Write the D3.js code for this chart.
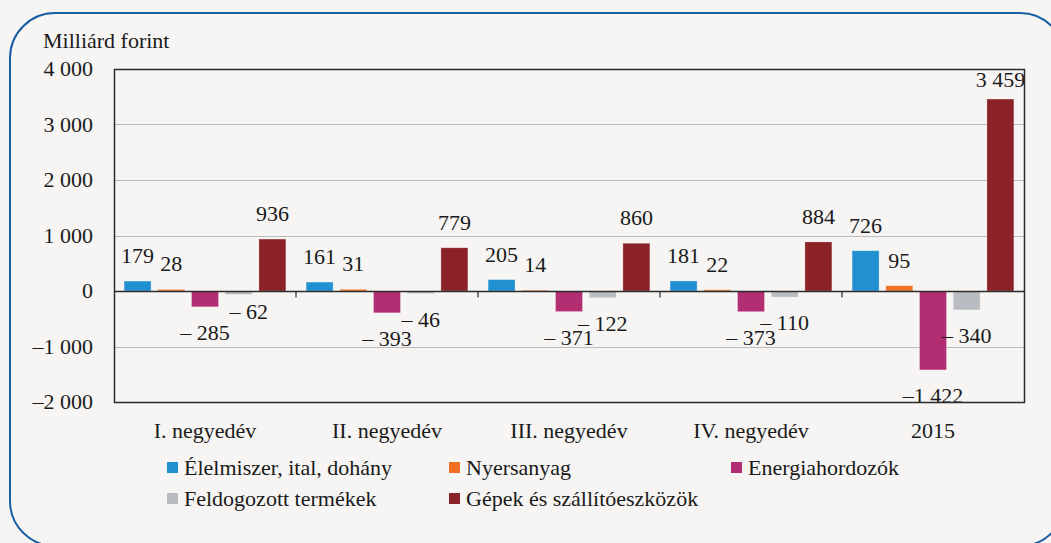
<!DOCTYPE html>
<html lang="hu">
<head>
<meta charset="UTF-8">
<title>Milliárd forint</title>
<script src="https://d3js.org/d3.v7.min.js"></script>
<style>
    body { margin: 0; padding: 0; background: #f6f5f3; }
    svg { display: block; }
</style>
</head>
<body>
<div id="chart"></div>
<script>
    const categories = ["I. negyedév", "II. negyedév", "III. negyedév", "IV. negyedév", "2015"];
    const seriesNames = ["Élelmiszer, ital, dohány", "Nyersanyag", "Energiahordozók", "Feldogozott termékek", "Gépek és szállítóeszközök"];
    const seriesColors = ["#2190d0", "#f07024", "#b32d73", "#b9bcc0", "#8b2227"];
    const food = [179, 161, 205, 181, 726];
    const raw = [28, 31, 14, 22, 95];
    const energy = [-285, -393, -371, -373, -1422];
    const processed = [-62, -46, -122, -110, -340];
    const machinery = [936, 779, 860, 884, 3459];
    const yTicks = [-2000, -1000, 0, 1000, 2000, 3000, 4000];

    const series = [food, raw, energy, processed, machinery];

    // manual nudge of one label that sits next to its neighbour in the original
    const labelNudge = { "0-3": [10, -8] };

    const width = 1051, height = 543;
    const plot = { left: 114, right: 1024, top: 69, bottom: 402 };
    const FONT = "Liberation Serif";
    const FS = 22;
    const INK = "#1a1a1a";

    const svg = d3.select("#chart").append("svg")
        .attr("width", width).attr("height", height)
        .attr("font-family", FONT);

    // frame
    svg.append("rect")
        .attr("x", 10).attr("y", 13)
        .attr("width", 1055).attr("height", 533)
        .attr("rx", 45).attr("ry", 45)
        .attr("fill", "#f6f5f3")
        .attr("stroke", "#1a5fa4").attr("stroke-width", 2);

    const x0 = d3.scaleBand().domain(d3.range(categories.length))
        .range([plot.left, plot.right]).padding(0);
    const x1 = d3.scaleBand().domain(d3.range(series.length))
        .range([0, x0.bandwidth()]).paddingInner(0.2).paddingOuter(0.3);
    const y = d3.scaleLinear().domain([-2000, 4000]).range([plot.bottom, plot.top]);

    // gridlines
    svg.append("g").selectAll("line")
        .data(yTicks.filter(t => t !== 0 && t !== 4000 && t !== -2000))
        .join("line")
        .attr("x1", plot.left).attr("x2", plot.right)
        .attr("y1", d => Math.round(y(d)) + 0.5).attr("y2", d => Math.round(y(d)) + 0.5)
        .attr("stroke", "#bcbcbc").attr("stroke-width", 1);

    // y axis labels
    const fmtTick = d => {
        const s = d3.format(",")(Math.abs(d)).replace(/,/g, " ");
        return d < 0 ? "\u2013" + s : s;
    };
    svg.append("g").selectAll("text")
        .data(yTicks).join("text")
        .attr("x", 93).attr("y", d => y(d))
        .attr("dy", "0.33em")
        .attr("text-anchor", "end")
        .attr("font-size", FS).attr("fill", INK)
        .text(fmtTick);

    svg.append("text")
        .attr("x", 43).attr("y", 48)
        .attr("font-size", FS).attr("fill", INK)
        .text("Milliárd forint");

    // bars
    const groups = svg.append("g").selectAll("g")
        .data(categories).join("g")
        .attr("transform", (d, i) => `translate(${x0(i)},0)`);

    groups.selectAll("rect")
        .data((d, i) => series.map((s, j) => ({ g: i, s: j, v: s[i] })))
        .join("rect")
        .attr("x", d => x1(d.s))
        .attr("width", x1.bandwidth())
        .attr("y", d => y(Math.max(0, d.v)))
        .attr("height", d => Math.abs(y(d.v) - y(0)))
        .attr("fill", d => seriesColors[d.s])
        .attr("stroke", "#ffffff").attr("stroke-opacity", 0.35).attr("stroke-width", 0.8);

    // value labels
    const fmtVal = v => {
        const a = Math.abs(v);
        const s = d3.format(",")(a).replace(/,/g, " ");
        if (v >= 0) return s;
        return a < 1000 ? "\u2013 " + s : "\u2013" + s;
    };
    groups.selectAll("text")
        .data((d, i) => series.map((s, j) => ({ g: i, s: j, v: s[i] })))
        .join("text")
        .attr("x", d => x1(d.s) + x1.bandwidth() / 2 + (labelNudge[d.g + "-" + d.s] || [0, 0])[0])
        .attr("y", d => {
            const n = (labelNudge[d.g + "-" + d.s] || [0, 0])[1];
            if (d.v >= 0) return Math.max(y(d.v) - 18, plot.top + 18) + n;
            return y(d.v) + 33 + n;
        })
        .attr("text-anchor", "middle")
        .attr("font-size", FS).attr("fill", INK)
        .text(d => fmtVal(d.v));

    // plot frame
    svg.append("rect")
        .attr("x", plot.left + 0.5).attr("y", plot.top + 0.5)
        .attr("width", plot.right - plot.left).attr("height", plot.bottom - plot.top)
        .attr("fill", "none").attr("stroke", "#2b2b2b").attr("stroke-width", 1.5);

    // zero line and category ticks
    const zeroY = Math.round(y(0)) + 0.5;
    svg.append("line")
        .attr("x1", plot.left).attr("x2", plot.right)
        .attr("y1", zeroY).attr("y2", zeroY)
        .attr("stroke", "#2b2b2b").attr("stroke-width", 1.5);
    svg.append("g").selectAll("line")
        .data(d3.range(1, categories.length)).join("line")
        .attr("x1", i => x0(i)).attr("x2", i => x0(i))
        .attr("y1", zeroY).attr("y2", zeroY + 6)
        .attr("stroke", "#2b2b2b").attr("stroke-width", 1.2);

    // category labels
    svg.append("g").selectAll("text")
        .data(categories).join("text")
        .attr("x", (d, i) => x0(i) + x0.bandwidth() / 2)
        .attr("y", 438)
        .attr("text-anchor", "middle")
        .attr("font-size", FS).attr("fill", INK)
        .text(d => d);

    // legend
    const legendPos = [[167, 475], [449, 475], [731, 475], [167, 506], [449, 506]];
    const legend = svg.append("g").selectAll("g")
        .data(seriesNames).join("g")
        .attr("transform", (d, i) => `translate(${legendPos[i][0]},${legendPos[i][1]})`);
    legend.append("rect")
        .attr("x", 0).attr("y", -13).attr("width", 11).attr("height", 11)
        .attr("fill", (d, i) => seriesColors[i]);
    legend.append("text")
        .attr("x", 17).attr("y", 0)
        .attr("font-size", FS).attr("fill", INK)
        .text(d => d);
</script>
</body>
</html>
